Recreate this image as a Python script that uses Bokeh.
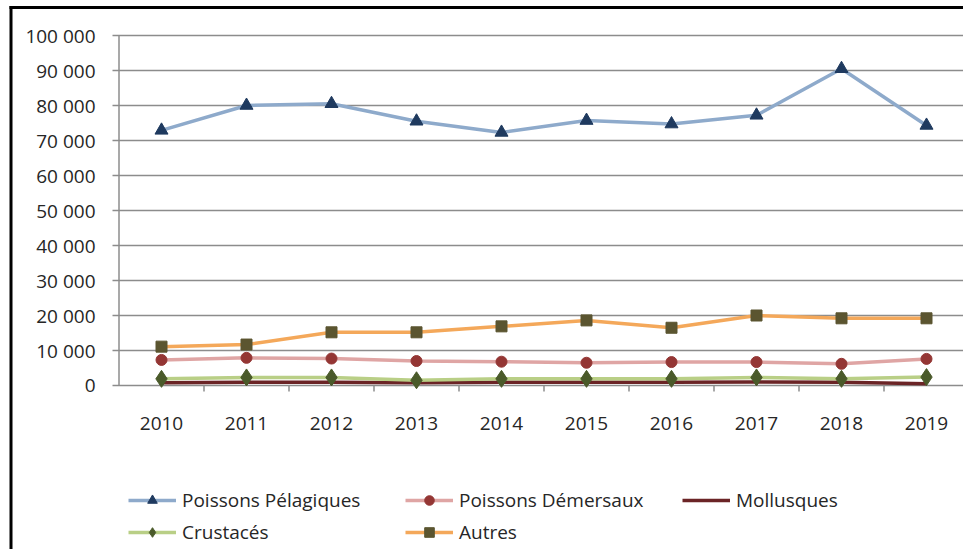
from bokeh.plotting import figure
from bokeh.models import Range1d, Legend, LegendItem
from bokeh.core.properties import value
from bokeh.embed import file_html
from bokeh.resources import INLINE

# Landings by group, tonnes
years = [2010, 2011, 2012, 2013, 2014, 2015, 2016, 2017, 2018, 2019]
pelagiques = [72900, 80000, 80500, 75500, 72300, 75700, 74700, 77200, 90500, 74300]
demersaux = [7300, 7900, 7700, 7000, 6800, 6500, 6700, 6700, 6200, 7600]
mollusques = [800, 900, 900, 800, 900, 900, 900, 1000, 900, 500]
crustaces = [1900, 2300, 2300, 1500, 1900, 1900, 1900, 2300, 1900, 2400]
autres = [11100, 11700, 15200, 15200, 16900, 18600, 16500, 20000, 19200, 19200]

series_names = ["Poissons Pélagiques", "Poissons Démersaux", "Mollusques", "Crustacés", "Autres"]

y_ticks = [0, 10000, 20000, 30000, 40000, 50000, 60000, 70000, 80000, 90000, 100000]
y_tick_labels = ["0", "10 000", "20 000", "30 000", "40 000", "50 000",
                 "60 000", "70 000", "80 000", "90 000", "100 000"]

FONT = "Open Sans"
TEXT = "#262626"
GRID = "#8c8c8c"

# Canvas layout (pixels). The whole canvas is the plotting frame; the axes,
# labels and outer border are drawn in data space through these conversions.
W, H = 963, 549
X0_PX = 118.5      # left edge of the category axis (start of 2010 slot)
Y0_PX = 385.0      # zero line
CAT_PX = 85.0      # width of one year slot
PX = 350 / 100000  # pixels per tonne


def data_x(px):
    return years[0] - 0.5 + (px - X0_PX) / CAT_PX


def data_y(py):
    return (Y0_PX - py) / PX


x_lo, x_hi = data_x(0), data_x(W)
p = figure(width=W, height=H, output_backend="svg", toolbar_location=None,
           x_axis_location=None, y_axis_location=None,
           x_range=Range1d(x_lo, x_hi), y_range=Range1d(data_y(H), data_y(0)),
           min_border=0)
p.outline_line_color = None
p.background_fill_color = "white"
p.border_fill_color = "white"
p.grid.visible = False

# outer border of the chart: top and left edges
p.segment(x0=[data_x(9), data_x(10.5)], y0=[data_y(7), data_y(5.5)],
          x1=[x_hi, data_x(10.5)], y1=[data_y(7), data_y(H)],
          line_color="black", line_width=3)

# value axis: gridlines (with their outer ticks), axis line and labels
n = len(y_ticks)
p.segment(x0=[data_x(112)] * n, y0=y_ticks, x1=[x_hi] * n, y1=y_ticks,
          line_color=GRID, line_width=1.5)
axis_x = years[0] - 0.5
p.segment(x0=[axis_x], y0=[y_ticks[0]], x1=[axis_x], y1=[y_ticks[-1]],
          line_color=GRID, line_width=1.5)
p.text(x=[data_x(95)] * n, y=y_ticks, text=y_tick_labels,
       text_font=value(FONT), text_font_size="19px", text_color=TEXT,
       text_align="right", text_baseline="middle")

# category axis along the zero line: ticks between years, year labels beneath
bounds = [y + 0.5 for y in years]
p.segment(x0=bounds, y0=[0] * len(bounds), x1=bounds, y1=[data_y(391)] * len(bounds),
          line_color=GRID, line_width=1.5)
p.text(x=years, y=[data_y(423)] * len(years), text=[str(y) for y in years],
       text_font=value(FONT), text_font_size="19px", text_color=TEXT,
       text_align="center", text_baseline="middle")

styles = [
    # (values, line colour, marker, marker colour, marker size)
    (pelagiques, "#8eaacb", "triangle", "#1f3a5f", 13),
    (demersaux, "#dfa5a4", "circle", "#943634", 11),
    (mollusques, "#6b2426", None, None, 0),
    (crustaces, "#b9cf86", "diamond", "#4a5a2a", 17),
    (autres, "#f4a85a", "square", "#5b5530", 11),
]

items = []
for name, (vals, lc, mk, mc, ms) in zip(series_names, styles):
    rs = [p.line(years, vals, line_color=lc, line_width=3.5)]
    if mk:
        rs.append(p.scatter(years, vals, marker=mk, size=ms, fill_color=mc,
                            line_color=mc))
    items.append(LegendItem(label=name, renderers=rs))

legend = Legend(items=items, location=(128, 4), orientation="horizontal", ncols=3,
                glyph_width=48, glyph_height=24, label_height=24, label_width=217,
                label_standoff=6, spacing=6, padding=0, margin=0,
                border_line_color=None, background_fill_alpha=0,
                label_text_font=FONT, label_text_font_size="19px",
                label_text_color=TEXT)
p.add_layout(legend, "center")

open("out.html", "w").write(file_html(p, INLINE))
